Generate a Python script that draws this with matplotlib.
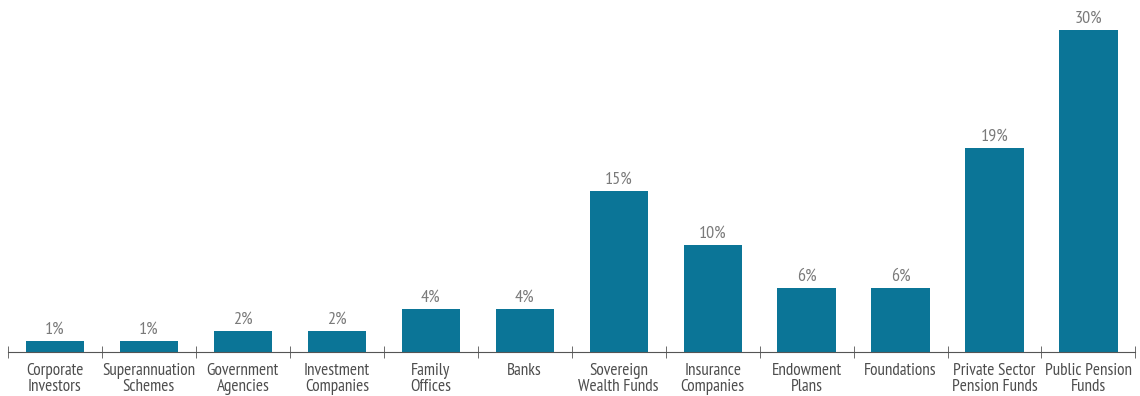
import matplotlib.pyplot as plt
from matplotlib import font_manager
import numpy as np

categories = ["Corporate\nInvestors", "Superannuation\nSchemes", "Government\nAgencies",
              "Investment\nCompanies", "Family\nOffices", "Banks", "Sovereign\nWealth Funds",
              "Insurance\nCompanies", "Endowment\nPlans", "Foundations",
              "Private Sector\nPension Funds", "Public Pension\nFunds"]
values = [1, 1, 2, 2, 4, 4, 15, 10, 6, 6, 19, 30]

# pick a condensed face if one is available, like the original's narrow font
installed = {f.name for f in font_manager.fontManager.ttflist}
wanted = ["PT Sans Narrow", "Fira Sans Condensed", "Roboto Condensed",
          "Open Sans Condensed", "Encode Sans Condensed", "Liberation Sans Narrow"]
narrow = [n for n in wanted if n in installed]
if narrow:
    plt.rcParams['font.family'] = [narrow[0], 'DejaVu Sans']
    label_size, value_size = 12.3, 13
else:
    plt.rcParams['font.family'] = ['DejaVu Sans']
    label_size, value_size = 8.5, 10

fig = plt.figure(figsize=(11.4, 3.96), dpi=100)
ax = fig.add_axes([0.007, 0.111, 0.989, 0.889])

x = np.arange(len(categories))
ax.bar(x, values, width=0.62, color="#0b7597")
for xi, v in zip(x, values):
    ax.text(xi, v + 0.3, f"{v}%", ha="center", va="bottom", fontsize=value_size, color="#7a7a7a")

ax.set_xlim(-0.5, len(categories) - 0.5)
ax.set_ylim(0, 32.8)
for s in ["top", "right", "left"]:
    ax.spines[s].set_visible(False)
ax.spines["bottom"].set_color("#555555")
ax.set_yticks([])

ax.set_xticks(x)
ax.set_xticklabels(categories, fontsize=label_size, color="#4d4d4d", linespacing=1.0)
ax.tick_params(axis="x", length=0, pad=8)
ax.set_xticks(np.arange(-0.5, len(categories)), minor=True)
ax.tick_params(axis="x", which="minor", length=9, direction="inout", color="#555555")

fig.savefig("out.png", dpi=100)
